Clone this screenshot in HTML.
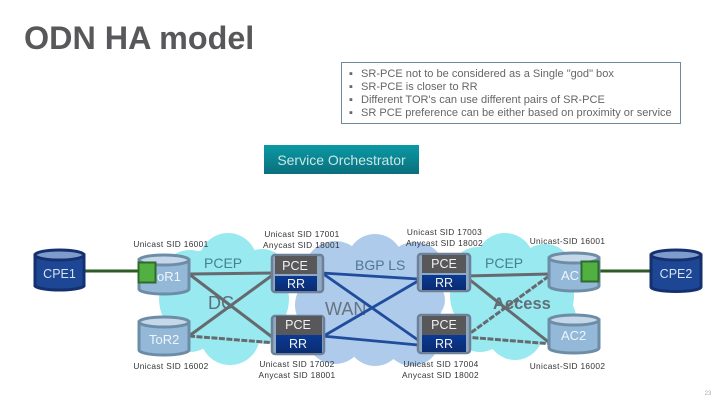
<!DOCTYPE html>
<html><head><meta charset="utf-8"><style>
html,body{margin:0;padding:0;background:#fff}
svg{display:block}
text{font-family:"Liberation Sans",sans-serif}
</style></head><body>
<svg width="720" height="405" viewBox="0 0 720 405" xmlns="http://www.w3.org/2000/svg">
<defs>
<linearGradient id="so" x1="0" y1="0" x2="0" y2="1"><stop offset="0" stop-color="#0a9aa4"/><stop offset="1" stop-color="#0b6f7c"/></linearGradient>
<linearGradient id="rr" x1="0" y1="0" x2="0" y2="1"><stop offset="0" stop-color="#0a3a94"/><stop offset="1" stop-color="#0b2c70"/></linearGradient>
</defs>
<text x="24" y="49" font-size="32.300" font-weight="bold" fill="#58585a">ODN HA model</text>

<rect x="341.500" y="62.500" width="339" height="61" fill="#fff" stroke="#6f8a9c" stroke-width="1"/>
<g font-size="11.050" fill="#666">
<text x="349" y="77">▪</text><text x="361" y="77">SR-PCE not to be considered as a Single "god" box</text>
<text x="349" y="90">▪</text><text x="361" y="90">SR-PCE is closer to RR</text>
<text x="349" y="103">▪</text><text x="361" y="103">Different TOR's can use different pairs of SR-PCE</text>
<text x="349" y="116">▪</text><text x="361" y="116">SR PCE preference can be either based on proximity or service</text>
</g>
<rect x="264" y="145" width="155" height="29" fill="url(#so)"/>
<text x="341.500" y="165" font-size="14" fill="#c8e6ea" text-anchor="middle">Service Orchestrator</text>

<!-- clouds -->
<g fill="#98e9f0">
<ellipse cx="224" cy="299" rx="65" ry="52"/><circle cx="228" cy="262" r="29"/><circle cx="190" cy="280" r="30"/><circle cx="262" cy="275" r="26"/><circle cx="190" cy="325" r="27"/><circle cx="230" cy="335" r="30"/><circle cx="265" cy="322" r="22"/>
<ellipse cx="512" cy="296" rx="62" ry="50"/><circle cx="505" cy="262" r="29"/><circle cx="478" cy="275" r="28"/><circle cx="545" cy="272" r="28"/><circle cx="480" cy="325" r="27"/><circle cx="515" cy="332" r="28"/><circle cx="550" cy="318" r="26"/>
</g>
<g fill="#aecbeb">
<ellipse cx="370" cy="300" rx="73" ry="55"/><circle cx="375" cy="262" r="28"/><circle cx="335" cy="272" r="31"/><circle cx="415" cy="272" r="30"/><circle cx="325" cy="305" r="30"/><circle cx="335" cy="335" r="29"/><circle cx="375" cy="338" r="28"/><circle cx="412" cy="338" r="28"/><circle cx="425" cy="300" r="20"/>
</g>

<!-- cloud labels under lines -->
<text x="208" y="309" font-size="18" fill="#5f6f78">DC</text>
<text x="325" y="315" font-size="18" fill="#66747e">WAN</text>
<text x="355" y="270" font-size="14" fill="#4e7891">BGP LS</text>
<text x="204" y="268" font-size="14" fill="#47818e">PCEP</text>
<text x="485" y="268" font-size="14" fill="#47818e">PCEP</text>
<text x="493" y="309" font-size="16.500" font-weight="bold" fill="#5f6f78">Access</text>

<!-- WAN lines -->
<g stroke="#1f4d9c" stroke-width="2.800" fill="none">
<line x1="322" y1="273" x2="418" y2="279"/>
<line x1="322" y1="273" x2="418" y2="340"/>
<line x1="322" y1="337" x2="418" y2="281"/>
<line x1="322" y1="336" x2="418" y2="345"/>
</g>
<!-- DC lines -->
<g stroke="#666a6e" stroke-width="3" fill="none">
<line x1="189" y1="274" x2="274" y2="273"/>
<line x1="189" y1="274" x2="276" y2="340"/>
<line x1="189" y1="336" x2="274" y2="274"/>
<line x1="189" y1="336" x2="276" y2="343" stroke-dasharray="6 1.500"/>
<line x1="465" y1="276" x2="549" y2="274"/>
<line x1="465" y1="276" x2="551" y2="344"/>
<line x1="465" y1="337" x2="549" y2="276" stroke-dasharray="6 1.500"/>
<line x1="465" y1="337" x2="553" y2="344" stroke-dasharray="6 1.500"/>
</g>
<!-- CPE links -->
<g stroke="#2d5a25" stroke-width="3">
<line x1="84" y1="271" x2="140" y2="271"/>
<line x1="598" y1="271" x2="652" y2="271"/>
</g>

<!-- CPE cylinders -->
<g stroke="#15306f" stroke-width="3">
<path d="M35 255V286A25 5 0 0 0 84 286V255Z" fill="#1d4795"/>
<ellipse cx="59.500" cy="255" rx="24.500" ry="5" fill="#7e9bcc"/>
<path d="M651 255V287A25 4.500 0 0 0 701 287V255Z" fill="#1d4795"/>
<ellipse cx="676" cy="255" rx="25" ry="5" fill="#7e9bcc"/>
</g>
<text x="59.500" y="278" font-size="12.500" fill="#d5e2f0" text-anchor="middle">CPE1</text>
<text x="676" y="278" font-size="12.500" fill="#d5e2f0" text-anchor="middle">CPE2</text>

<!-- ToR / AC cylinders -->
<g stroke="#6d8da6" stroke-width="3">
<path d="M139 260V289A25 5 0 0 0 189 289V260Z" fill="#93b8d8"/><ellipse cx="164" cy="260" rx="25" ry="5" fill="#c5d8e9"/>
<path d="M139 322V350A25 5 0 0 0 189 350V322Z" fill="#93b8d8"/><ellipse cx="164" cy="322" rx="25" ry="5" fill="#c5d8e9"/>
<path d="M549 258V286A25 5 0 0 0 599 286V258Z" fill="#93b8d8"/><ellipse cx="574" cy="258" rx="25" ry="5" fill="#c5d8e9"/>
<path d="M549 320V348A25 5 0 0 0 599 348V320Z" fill="#93b8d8"/><ellipse cx="574" cy="320" rx="25" ry="5" fill="#c5d8e9"/>
</g>
<g font-size="13" fill="#eef5fa">
<text x="157" y="281">oR1</text>
<text x="149" y="344">ToR2</text>
<text x="561" y="280">AC</text>
<text x="561" y="340">AC2</text>
</g>
<rect x="138.500" y="262.500" width="17" height="20" fill="#52b043" stroke="#2d6a2c" stroke-width="2"/>
<rect x="581.500" y="261.500" width="17" height="20" fill="#52b043" stroke="#2d6a2c" stroke-width="2"/>

<!-- PCE/RR nodes -->
<rect x="272" y="255" width="51" height="37" rx="3" fill="#8fa9c2" stroke="#6d8097" stroke-width="2.500"/>
<rect x="275" y="256" width="42" height="18" fill="#58585a"/><rect x="275" y="276" width="42" height="15" fill="url(#rr)"/>
<rect x="272" y="316" width="52" height="38" rx="3" fill="#8fa9c2" stroke="#6d8097" stroke-width="2.500"/>
<rect x="276" y="316" width="46" height="19" fill="#58585a"/><rect x="276" y="335" width="46" height="18" fill="url(#rr)"/>
<rect x="418" y="254" width="52" height="37" rx="3" fill="#8fa9c2" stroke="#6d8097" stroke-width="2.500"/>
<rect x="422" y="255" width="44" height="18" fill="#58585a"/><rect x="422" y="275" width="44" height="15" fill="url(#rr)"/>
<rect x="418" y="315" width="52" height="38" rx="3" fill="#8fa9c2" stroke="#6d8097" stroke-width="2.500"/>
<rect x="422" y="316" width="44" height="19" fill="#58585a"/><rect x="422" y="335" width="44" height="17" fill="url(#rr)"/>
<g font-size="12.500" fill="#f2f2f2" text-anchor="middle">
<text x="295" y="270">PCE</text><text x="296" y="288">RR</text>
<text x="298" y="329">PCE</text><text x="298" y="348">RR</text>
<text x="444" y="268">PCE</text><text x="444" y="287">RR</text>
<text x="444" y="329">PCE</text><text x="444" y="348">RR</text>
</g>

<!-- SID labels -->
<g font-size="8.300" fill="#333" text-anchor="middle" letter-spacing=".35">
<text x="171" y="247">Unicast SID 16001</text>
<text x="171" y="369">Unicast SID 16002</text>
<text x="302" y="237">Unicast SID 17001</text>
<text x="301.500" y="248">Anycast SID 18001</text>
<text x="297" y="367">Unicast SID 17002</text>
<text x="297" y="378">Anycast SID 18001</text>
<text x="444.500" y="235">Unicast SID 17003</text>
<text x="444.500" y="246">Anycast SID 18002</text>
<text x="441" y="367">Unicast SID 17004</text>
<text x="440.500" y="378">Anycast SID 18002</text>
<text x="567.500" y="244">Unicast-SID 16001</text>
<text x="567.500" y="369">Unicast-SID 16002</text>
</g>
<text x="708" y="395" font-size="6" fill="#a8a8a8" text-anchor="middle">23</text>
</svg>
</body></html>
